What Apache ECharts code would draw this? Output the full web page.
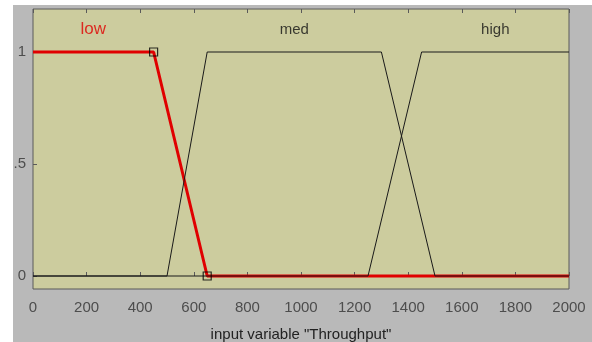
<!DOCTYPE html>
<html>
<head>
<meta charset="utf-8">
<script src="https://cdn.jsdelivr.net/npm/echarts@6/dist/echarts.min.js"></script>
<style>
  html, body { margin: 0; padding: 0; background: #ffffff; }
  #wrap { position: absolute; left: 13px; top: 5px; width: 579px; height: 337px; background: #b9b9b9; overflow: hidden; }
  #chart { width: 579px; height: 337px; }
</style>
</head>
<body>
<div id="wrap"><div id="chart"></div></div>
<script>
// membership functions of input variable "Throughput"
const lowX = [0, 450, 650, 2000]
const lowY = [1, 1, 0, 0]
const medX = [0, 500, 650, 1300, 1500, 2000]
const medY = [0, 0, 1, 1, 0, 0]
const highX = [0, 1250, 1450, 2000]
const highY = [0, 0, 1, 1]

// selected function's vertices (hollow squares)
const handleX = [450, 650]
const handleY = [1, 0]

// label positions
const mfNames = ['low', 'med', 'high']
const mfLabelX = [225, 975, 1725]
const mfLabelY = 1.1

const yTicks = [0, 0.5, 1]

const pairs = (xs, ys) => xs.map((x, i) => [x, ys[i]])

const chart = echarts.init(document.getElementById('chart'))

const font = 'Arial, "Liberation Sans", sans-serif'

const option = {
  animation: false,
  grid: {
    left: 20, top: 4, right: 23, bottom: 53,
    containLabel: false,
    outerBoundsMode: 'none',
    show: true,
    backgroundColor: '#cccc9e',
    borderColor: '#5a5a5a',
    borderWidth: 1,
  },
  xAxis: [
    {
      type: 'value',
      min: 0, max: 2000, interval: 200,
      name: 'input variable "Throughput"',
      nameLocation: 'middle',
      nameGap: 38,
      nameTextStyle: { color: '#222222', fontSize: 15, fontFamily: font },
      axisLine: { show: false },
      axisTick: { inside: true, length: 4, lineStyle: { color: '#5a5a5a' } },
      axisLabel: { color: '#4d4d4d', fontSize: 15, fontFamily: font, margin: 11, formatter: v => String(v) },
      splitLine: { show: false },
    },
    {
      type: 'value',
      position: 'top',
      min: 0, max: 2000, interval: 200,
      axisLine: { show: false },
      axisTick: { inside: true, length: 4, lineStyle: { color: '#5a5a5a' } },
      axisLabel: { show: false },
      splitLine: { show: false },
    },
  ],
  yAxis: {
    type: 'value',
    min: -0.058, max: 1.192,
    axisLine: { show: false },
    axisTick: { show: true, inside: true, length: 4, customValues: yTicks, lineStyle: { color: '#5a5a5a' } },
    axisLabel: { color: '#4d4d4d', fontSize: 15, fontFamily: font, margin: 7, customValues: yTicks },
    splitLine: { show: false },
  },
  series: [
    {
      name: 'low', type: 'line', data: pairs(lowX, lowY),
      symbol: 'none', z: 2,
      lineStyle: { color: '#e00000', width: 3 },
    },
    {
      name: 'med', type: 'line', data: pairs(medX, medY),
      symbol: 'none', z: 3,
      lineStyle: { color: '#1a1a1a', width: 1 },
    },
    {
      name: 'high', type: 'line', data: pairs(highX, highY),
      symbol: 'none', z: 3,
      lineStyle: { color: '#1a1a1a', width: 1 },
    },
    {
      name: 'handles', type: 'scatter', data: pairs(handleX, handleY),
      symbol: 'rect', symbolSize: 8, z: 4,
      itemStyle: { color: 'rgba(0,0,0,0)', borderColor: '#000000', borderWidth: 1.2 },
    },
    {
      name: 'labels', type: 'scatter', symbolSize: 0, z: 5,
      data: mfNames.map((n, i) => ({
        value: [mfLabelX[i], mfLabelY, n],
        label: i === 0 ? { color: '#e00000', fontSize: 17 } : { color: '#111111', fontSize: 15 },
      })),
      label: {
        show: true, position: 'inside',
        formatter: p => p.data.value[2],
        fontFamily: font,
      },
    },
  ],
}

chart.setOption(option)
</script>
</body>
</html>
